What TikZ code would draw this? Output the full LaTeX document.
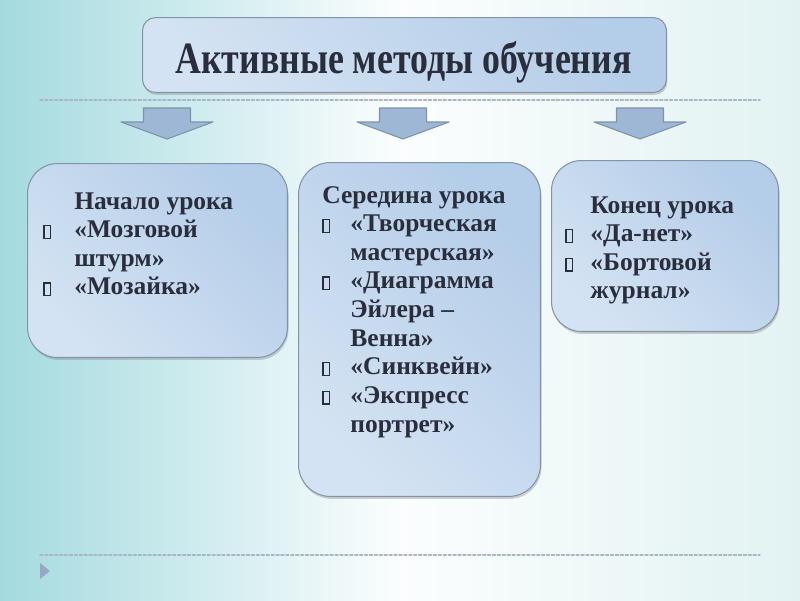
\documentclass[tikz,border=0pt]{standalone}
\usepackage{fontspec}
\setmainfont{Liberation Serif}
\newfontfamily\titlefont[FakeStretch=0.8]{Liberation Serif}
\usepackage{tikz}
\usetikzlibrary{shadows}
\usepackage{xcolor}

\definecolor{txtdark}{HTML}{2A2E3C}
\definecolor{boxtop}{HTML}{D4E3F3}
\definecolor{boxbot}{HTML}{B4CDE8}
\definecolor{boxline}{HTML}{8494A8}
\definecolor{arrfill}{HTML}{9DB7D4}
\definecolor{arrline}{HTML}{7D92AB}
\definecolor{bgcyan}{HTML}{A4DADF}
\definecolor{bgright}{HTML}{E2F2F2}
\definecolor{dotline}{HTML}{A8B6C6}
\definecolor{markgray}{HTML}{9AA7C3}

\newcommand\tofu{{\setlength{\fboxsep}{0pt}\setlength{\fboxrule}{0.7pt}\fbox{\rule{0pt}{6.5pt}\hspace{3.2pt}}}}

\begin{document}
\begin{tikzpicture}[x=0.02cm,y=-0.02cm,line cap=round,
  stagebox/.style={draw=boxline,line width=0.6pt,top color=boxtop,bottom color=boxbot,
    shading angle=135,inner sep=0,anchor=north west,
    drop shadow={opacity=0.35,shadow xshift=0.6pt,shadow yshift=-1.4pt}},
  stagetext/.style={anchor=base west,inner sep=0,text=txtdark,
    font=\fontsize{14.5}{16.3}\selectfont\bfseries},
  dotrule/.style={dotline,line width=0.9pt,dash pattern=on 1.6pt off 1.2pt}]
\useasboundingbox (0,0) rectangle (800,600);
% background
\shade[left color=bgcyan,right color=bgright,middle color=white!96!bgcyan] (0,0) rectangle (800,600);
\draw[dotrule] (40,100) -- (760,100);
\draw[dotrule] (40,555) -- (760,555);
\fill[markgray] (40,563) -- (50,571) -- (40,579) -- cycle;

% title
\node[stagebox,rounded corners=0.26cm,minimum width=10.48cm,minimum height=1.5cm] (head) at (142,17) {};
\node[anchor=base,inner sep=0,text=txtdark,font=\titlefont\fontsize{25.5}{28}\selectfont\bfseries] (headtext) at (403.5,73) {Активные методы обучения};

% arrows
\foreach \cx in {167,403,640}
  \draw[arrline,fill=arrfill,line width=0.6pt,line join=round]
    (\cx-23.5,108) -- (\cx+23.5,108) -- (\cx+23.5,122) -- (\cx+46,122) -- (\cx,139)
    -- (\cx-46,122) -- (\cx-23.5,122) -- cycle;

% boxes
\node[stagebox,rounded corners=0.6cm,minimum width=5.2cm,minimum height=3.88cm] (startbox) at (27,163) {};
\node[stagebox,rounded corners=0.64cm,minimum width=4.84cm,minimum height=6.68cm] (midbox) at (298,162) {};
\node[stagebox,rounded corners=0.6cm,minimum width=4.54cm,minimum height=3.42cm] (endbox) at (551,160) {};

\node[stagetext] (starttext) at (43,209) {\begin{tabular}[t]{@{}l@{\hspace{13pt}}l@{}}
 & Начало урока\\
\tofu & «Мозговой\\
 & штурм»\\
\tofu & «Мозайка»
\end{tabular}};

\node[stagetext] (midtext) at (322,203) {\begin{tabular}[t]{@{}l@{\hspace{11.4pt}}l@{}}
\multicolumn{2}{@{}l@{}}{Середина урока}\\
\tofu & «Творческая\\
 & мастерская»\\
\tofu & «Диаграмма\\
 & Эйлера –\\
 & Венна»\\
\tofu & «Синквейн»\\
\tofu & «Экспресс\\
 & портрет»
\end{tabular}};

\node[stagetext] (endtext) at (565,213) {\begin{tabular}[t]{@{}l@{\hspace{9.7pt}}l@{}}
 & Конец урока\\
\tofu & «Да-нет»\\
\tofu & «Бортовой\\
 & журнал»
\end{tabular}};
\end{tikzpicture}
\end{document}
